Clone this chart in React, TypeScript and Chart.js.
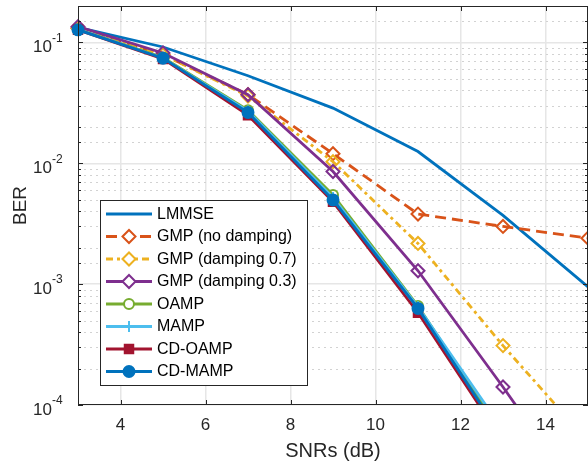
import React, { useEffect, useRef } from 'react';
import { Chart, registerables } from 'chart.js';
import { drawPoint } from 'chart.js/helpers';

Chart.register(...registerables);

const FONT = "'Liberation Sans', Arial, Helvetica, sans-serif";
const TEXT = '#262626';
const LW = 2.8;

// ---- data ----
const snrDb = [3, 5, 7, 9, 11, 13, 15];
const xTickValues = [4, 6, 8, 10, 12, 14];
const yDecades = [1e-4, 1e-3, 1e-2, 1e-1];
const yExponents = ['-4', '-3', '-2', '-1'];

const seriesNames = [
  'LMMSE',
  'GMP (no damping)',
  'GMP (damping 0.7)',
  'GMP (damping 0.3)',
  'OAMP',
  'MAMP',
  'CD-OAMP',
  'CD-MAMP',
];

const berLMMSE = [0.133, 0.0916, 0.053, 0.0286, 0.0125, 0.0037, 0.00095];
const berGMPNoDamping = [0.131, 0.079, 0.037, 0.012, 0.0038, 0.003, 0.0024];
const berGMPDamping07 = [0.131, 0.079, 0.036, 0.0103, 0.00217, 0.00031, 0.00005];
const berGMPDamping03 = [0.135, 0.0817, 0.0369, 0.00855, 0.00129, 0.000141, 0.000014];
const berOAMP = [0.128, 0.075, 0.0275, 0.00546, 0.00066, 0.000056, 0.000003];
const berMAMP = [0.128, 0.074, 0.027, 0.0052, 0.00065, 0.000062, 0.000004];
const berCDOAMP = [0.127, 0.073, 0.025, 0.0048, 0.00058, 0.00005, 0.000002];
const berCDMAMP = [0.127, 0.074, 0.0263, 0.00497, 0.00063, 0.000053, 0.000003];

const seriesValues = [
  berLMMSE,
  berGMPNoDamping,
  berGMPDamping07,
  berGMPDamping03,
  berOAMP,
  berMAMP,
  berCDOAMP,
  berCDMAMP,
];

// ---- styles ----
type Sty = { color: string; dash: number[]; point: any; r: number; fill: string };
const NONE = 'rgba(0,0,0,0)';
const seriesStyles: Sty[] = [
  { color: '#0072BD', dash: [], point: false, r: 0, fill: NONE },
  { color: '#D95319', dash: [11, 6], point: 'rectRot', r: 6.5, fill: NONE },
  { color: '#EDB120', dash: [7, 4, 3, 4], point: 'rectRot', r: 6.5, fill: NONE },
  { color: '#7E2F8E', dash: [], point: 'rectRot', r: 6.5, fill: NONE },
  { color: '#77AC30', dash: [], point: 'circle', r: 5, fill: NONE },
  { color: '#4DBEEE', dash: [], point: 'cross', r: 5.5, fill: NONE },
  { color: '#A2142F', dash: [], point: 'rect', r: 6, fill: '#A2142F' },
  { color: '#0072BD', dash: [], point: 'circle', r: 5.5, fill: '#0072BD' },
];

const isDecade = (v: number) => {
  if (!(v > 0)) return false;
  const l = Math.log10(v);
  return Math.abs(l - Math.round(l)) < 1e-9;
};

const framePlugin = {
  id: 'frame',
  beforeDatasetsDraw(chart: any) {
    const { ctx, chartArea: a } = chart;
    const y = chart.scales.y;
    ctx.save();
    ctx.strokeStyle = '#d2d2d2';
    ctx.lineWidth = 1;
    ctx.setLineDash([2, 4]);
    y.ticks.forEach((t: any) => {
      if (isDecade(t.value)) return;
      const py = Math.round(y.getPixelForValue(t.value)) + 0.5;
      ctx.beginPath();
      ctx.moveTo(a.left, py);
      ctx.lineTo(a.right, py);
      ctx.stroke();
    });
    ctx.restore();
  },
  afterDatasetsDraw(chart: any) {
    const { ctx, chartArea: a } = chart;
    const x = chart.scales.x;
    const y = chart.scales.y;
    ctx.save();
    ctx.setLineDash([]);
    ctx.strokeStyle = TEXT;
    ctx.lineWidth = 1;
    // box
    ctx.strokeRect(a.left + 0.5, a.top + 0.5, a.right - a.left - 1, a.bottom - a.top - 1);
    // x tick marks
    xTickValues.forEach((v) => {
      const px = Math.round(x.getPixelForValue(v)) + 0.5;
      ctx.beginPath();
      ctx.moveTo(px, a.bottom);
      ctx.lineTo(px, a.bottom - 5);
      ctx.moveTo(px, a.top);
      ctx.lineTo(px, a.top + 5);
      ctx.stroke();
    });
    // y tick marks
    y.ticks.forEach((t: any) => {
      const len = isDecade(t.value) ? 5 : 3;
      const py = Math.round(y.getPixelForValue(t.value)) + 0.5;
      ctx.beginPath();
      ctx.moveTo(a.left, py);
      ctx.lineTo(a.left + len, py);
      ctx.moveTo(a.right, py);
      ctx.lineTo(a.right - len, py);
      ctx.stroke();
    });

    // legend
    const bx = 100.5, by = 200.5, bw = 207, bh = 185;
    ctx.fillStyle = '#ffffff';
    ctx.fillRect(bx, by, bw, bh);
    ctx.strokeStyle = TEXT;
    ctx.strokeRect(bx, by, bw, bh);
    chart.data.datasets.forEach((ds: any, i: number) => {
      const st = seriesStyles[i];
      const yy = 214 + i * 22.5;
      ctx.save();
      ctx.strokeStyle = st.color;
      ctx.lineWidth = LW;
      ctx.setLineDash(st.dash);
      ctx.beginPath();
      ctx.moveTo(106, yy);
      ctx.lineTo(152, yy);
      ctx.stroke();
      ctx.setLineDash([]);
      if (st.point) {
        ctx.strokeStyle = st.color;
        ctx.fillStyle = st.fill === NONE ? '#ffffff' : st.fill;
        ctx.lineWidth = 2;
        drawPoint(ctx, { pointStyle: st.point, radius: st.r, borderWidth: 2, rotation: 0 } as any, 129, yy);
      }
      ctx.restore();
      ctx.fillStyle = '#000000';
      ctx.font = `16px ${FONT}`;
      ctx.textAlign = 'left';
      ctx.textBaseline = 'middle';
      ctx.fillText(ds.label, 157, yy + 0.5);
    });
    ctx.restore();
  },
  afterDraw(chart: any) {
    const { ctx } = chart;
    const y = chart.scales.y;
    ctx.save();
    ctx.fillStyle = TEXT;
    ctx.textBaseline = 'middle';
    yDecades.forEach((v, i) => {
      const py = y.getPixelForValue(v);
      ctx.font = `17px ${FONT}`;
      ctx.textAlign = 'right';
      ctx.fillText('10', 52, py + 5);
      ctx.font = `12px ${FONT}`;
      ctx.textAlign = 'left';
      ctx.fillText(yExponents[i], 52, py - 4);
    });
    ctx.restore();
  },
};

export default function App() {
  const ref = useRef<HTMLCanvasElement>(null);
  useEffect(() => {
    const datasets = seriesNames.map((name, i) => {
      const st = seriesStyles[i];
      return {
        label: name,
        data: snrDb.map((x, k) => ({ x, y: seriesValues[i][k] })),
        borderColor: st.color,
        backgroundColor: st.color,
        borderWidth: LW,
        borderDash: st.dash,
        pointStyle: st.point,
        pointRadius: st.r,
        pointBorderWidth: 2,
        pointBorderColor: st.color,
        pointBackgroundColor: st.fill,
        tension: 0,
        order: 7 - i,
        clip: { left: 12, top: 12, right: 12, bottom: 0 },
      };
    });
    const chart: any = new Chart(ref.current as HTMLCanvasElement, {
      type: 'line',
      data: { datasets },
      options: {
        responsive: false,
        animation: false,
        devicePixelRatio: 1,
        layout: { autoPadding: false, padding: { top: 6, right: 0, left: 0, bottom: 0 } },
        plugins: { legend: { display: false }, tooltip: { enabled: false } },
        scales: {
          x: {
            type: 'linear',
            min: 3,
            max: 15,
            afterBuildTicks: (axis: any) => {
              axis.ticks = xTickValues.map((v) => ({ value: v }));
            },
            afterFit: (s: any) => {
              s.height = 58;
              s.paddingLeft = 0;
              s.paddingRight = 0;
            },
            grid: { color: '#e6e6e6', lineWidth: 1.5, drawTicks: false },
            border: { display: false },
            ticks: {
              font: { size: 17, family: FONT },
              color: TEXT,
              padding: 10,
              maxRotation: 0,
              autoSkip: false,
            },
            title: {
              display: true,
              text: 'SNRs (dB)',
              font: { size: 20, family: FONT },
              color: TEXT,
              padding: { top: 0, bottom: 0 },
            },
          },
          y: {
            type: 'logarithmic',
            min: 1e-4,
            max: 0.2,
            afterFit: (s: any) => {
              s.width = 78;
              s.paddingTop = 0;
              s.paddingBottom = 0;
            },
            grid: {
              color: (c: any) => (c.tick && isDecade(c.tick.value) ? '#e6e6e6' : NONE),
              lineWidth: 1.5,
              drawTicks: false,
            },
            border: { display: false },
            ticks: { display: false },
            title: {
              display: true,
              text: 'BER',
              font: { size: 19, family: FONT },
              color: TEXT,
              padding: { top: 9, bottom: 0 },
            },
          },
        },
      } as any,
      plugins: [framePlugin],
    });
    return () => chart.destroy();
  }, []);
  return (
    <canvas
      ref={ref}
      width={588}
      height={463}
      style={{ position: 'absolute', left: 0, top: 0, display: 'block' }}
    />
  );
}
